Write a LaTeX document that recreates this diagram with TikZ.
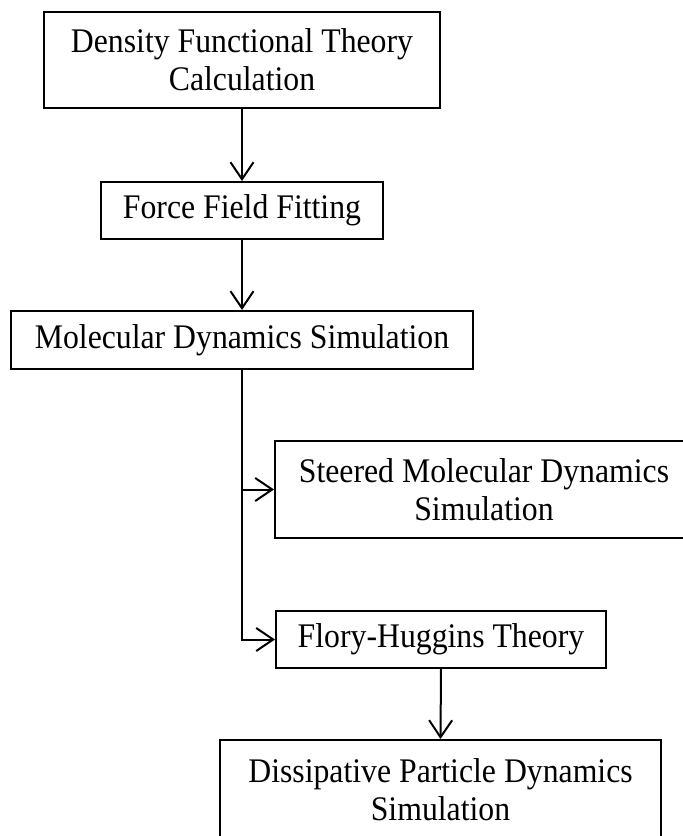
\documentclass[tikz,border=0pt]{standalone}
\usepackage{fontspec}
\setmainfont[FakeStretch=0.92]{Liberation Serif}
\usetikzlibrary{arrows.meta}
\begin{document}
\begin{tikzpicture}[x=1pt,y=-1pt,
  stepbox/.style={draw=black,line width=2pt,rectangle,inner sep=0pt,align=center,
    font=\fontsize{34.5}{38}\selectfont},
  arr/.style={draw=black,line width=2pt,-{Straight Barb[length=17pt,width=23pt,line width=2pt]}}]
\clip (0,0) rectangle (683,836);
\fill[white] (0,0) rectangle (683,836);
\node[stepbox,minimum width=396pt,minimum height=96pt] (dft) at (242,60) {Density Functional Theory\\Calculation};
\node[stepbox,minimum width=282pt,minimum height=57pt] (fff) at (242,210.5) {Force Field Fitting};
\node[stepbox,minimum width=462pt,minimum height=58pt] (md) at (242,340) {Molecular Dynamics Simulation};
\node[stepbox,minimum width=418pt,minimum height=97pt] (smd) at (484,489.5) {Steered Molecular Dynamics\\Simulation};
\node[stepbox,minimum width=330pt,minimum height=57pt] (fh) at (441,639.5) {Flory-Huggins Theory};
\node[stepbox,minimum width=441pt,minimum height=100pt] (dpd) at (440.5,790) {Dissipative Particle Dynamics\\Simulation};
\draw[arr] (dft.south) -- (fff.north);
\draw[arr] (fff.south) -- (md.north);
\draw[arr] (md.south) |- (fh.west);
\draw[arr] (md.south |- smd.west) -- (smd.west);
\draw[arr] (fh.south) -- (dpd.north);
\end{tikzpicture}
\end{document}
